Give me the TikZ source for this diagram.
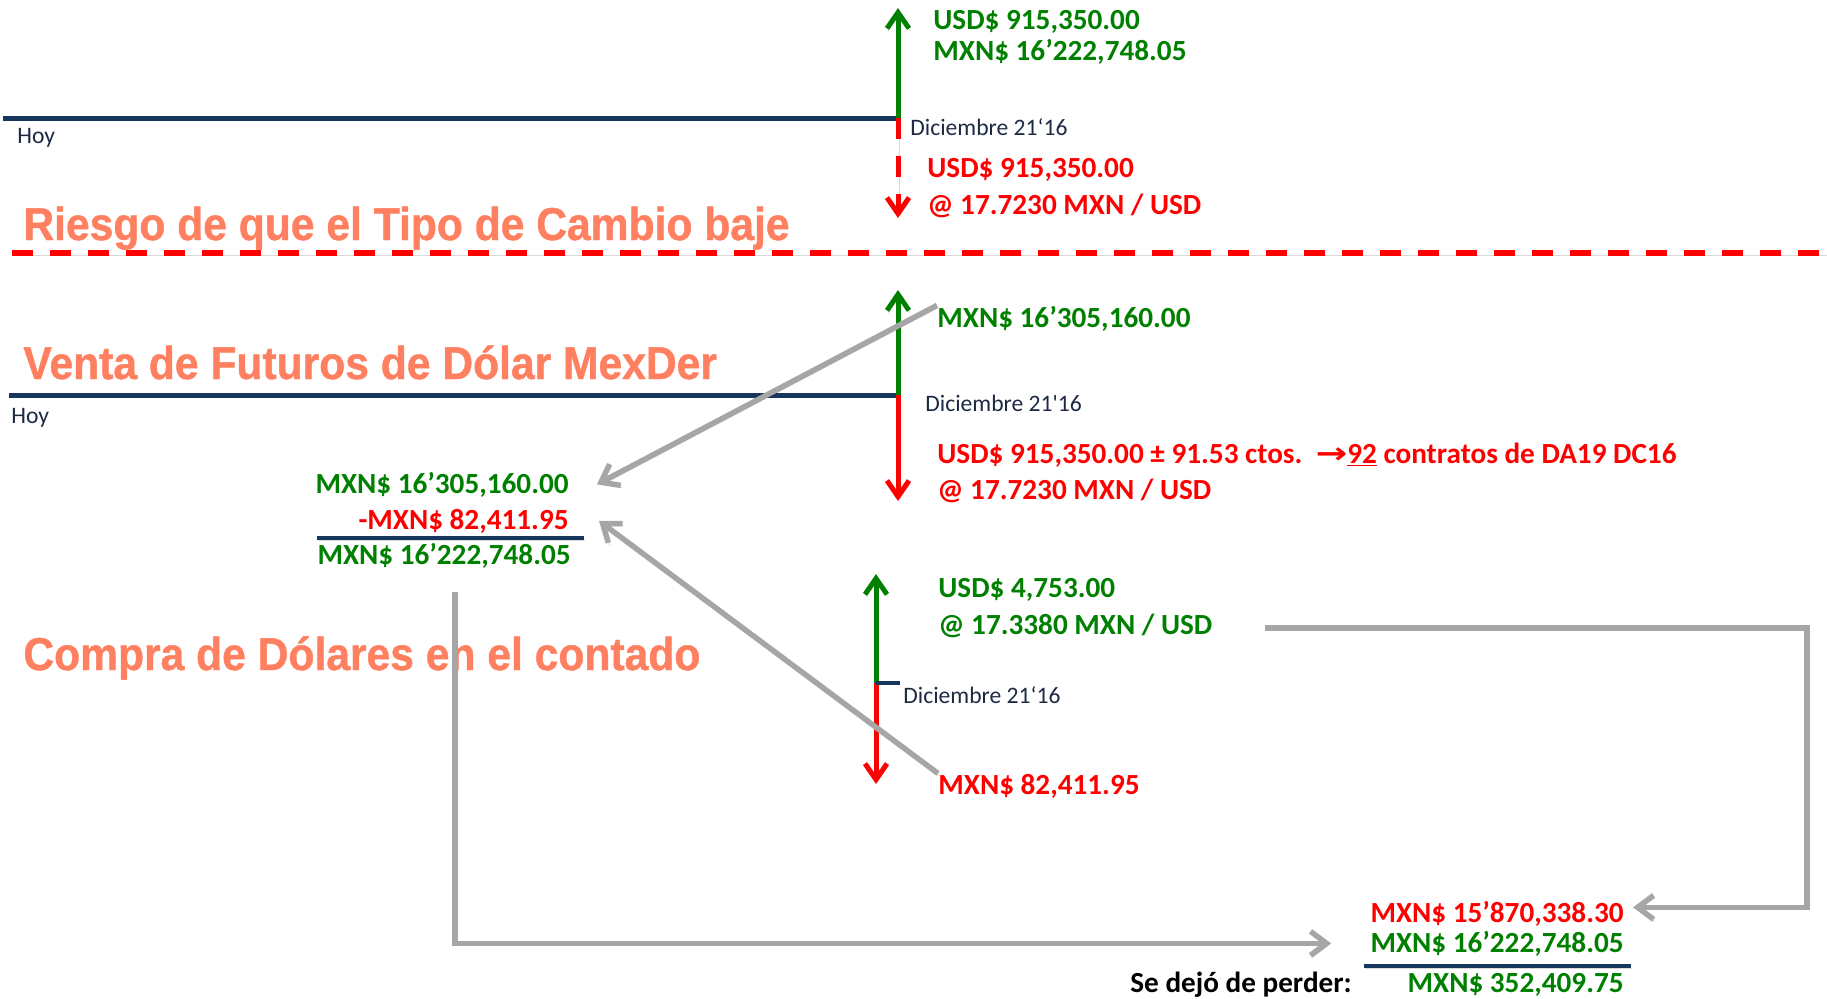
\documentclass[tikz,border=0pt]{standalone}
\usepackage{fontspec}
\setmainfont{Carlito}
\newfontfamily\headfont{Liberation Sans}[BoldFeatures={FakeBold=1}]
\newfontfamily\datefont{Carlito}[Ligatures=TeXOff]
\newfontfamily\symfont{DejaVu Sans}
\usetikzlibrary{arrows.meta}
\definecolor{cashgreen}{RGB}{0,128,0}
\definecolor{lossred}{RGB}{255,0,0}
\definecolor{navy}{RGB}{23,54,93}
\definecolor{datenavy}{RGB}{30,42,68}
\definecolor{headorange}{RGB}{255,128,96}
\definecolor{flowgray}{RGB}{166,166,166}
\newcommand{\tallhead}[1]{\scalebox{1}[1.08]{#1}}
\tikzset{money/.style={inner sep=0, font=\bfseries\fontsize{14.6}{17}\selectfont}}
\tikzset{datelabel/.style={inner sep=0, text=datenavy, font=\datefont\fontsize{11.8}{14}\selectfont}}
\tikzset{heading/.style={inner sep=0, text=headorange, font=\headfont\bfseries\fontsize{21.3}{25}\selectfont}}
\tikzset{shade/.style={preaction={draw=black, opacity=0.15, transform canvas={xshift=0.6pt, yshift=-1.2pt}}}}
\tikzset{timeline/.style={shade, draw=navy, line width=2.5pt}}
\tikzset{cash arrow/.style={shade, line width=2.5pt, -{Straight Barb[length=8pt,width=11pt]}}}
\tikzset{flow/.style={shade, draw=flowgray, line width=2.75pt, -{Straight Barb[length=8pt,width=12pt]}}}

\begin{document}
\begin{tikzpicture}[x=0.5pt, y=-0.5pt]
  \useasboundingbox (0, 0) rectangle (1827, 998);

  % riesgo
  \coordinate (t1 start) at (3, 118);
  \coordinate (t1 end) at (898, 118);
  \coordinate (t1 up) at (898, 8);
  \coordinate (t1 down) at (898, 218);
  \draw[timeline] (t1 start) -- (t1 end);
  \draw[cash arrow, cashgreen] (t1 end) -- (t1 up);
  \draw[cash arrow, lossred, dash pattern=on 10.5pt off 8.5pt] (t1 end) -- (t1 down);
  \node[money, text=cashgreen, anchor=base west] at (933, 29) (spot usd) {USD\$ 915,350.00};
  \node[money, text=cashgreen, anchor=base west] at (933, 60) (spot mxn) {MXN\$ 16’222,748.05};
  \node[datelabel, anchor=base west] at (910, 135) (date1) {Diciembre 21‘16};
  \node[money, text=lossred, anchor=base west] at (927, 177) (risk usd) {USD\$ 915,350.00};
  \node[money, text=lossred, anchor=base west] at (927, 214) (risk rate) {@ 17.7230 MXN / USD};
  \node[datelabel, anchor=base west] at (17, 143) (hoy1) {Hoy};
  \node[heading, anchor=base west] at (23, 240) (head1) {\tallhead{Riesgo de que el Tipo de Cambio baje}};
  \coordinate (cut start) at (12, 253);
  \coordinate (cut end) at (1827, 253);
  \draw[shade, lossred, line width=3pt, dash pattern=on 10.5pt off 8.5pt] (cut start) -- (cut end);

  % futuros
  \coordinate (t2 start) at (9, 395);
  \coordinate (t2 end) at (898, 395);
  \coordinate (t2 up) at (898, 290);
  \coordinate (t2 down) at (898, 501);
  \draw[timeline] (t2 start) -- (t2 end);
  \draw[cash arrow, cashgreen] (t2 end) -- (t2 up);
  \draw[cash arrow, lossred] (t2 end) -- (t2 down);
  \node[heading, anchor=base west] at (23, 379) (head2) {\tallhead{Venta de Futuros de Dólar MexDer}};
  \node[datelabel, anchor=base west] at (11, 423) (hoy2) {Hoy};
  \node[money, text=cashgreen, anchor=base west] at (937, 327) (fut mxn) {MXN\$ 16’305,160.00};
  \node[datelabel, anchor=base west] at (925, 411) (date2) {Diciembre 21'16};
  \node[money, text=lossred, anchor=base west] at (937, 463) (fut usd)
    {USD\$ 915,350.00 ± 91.53 ctos.\ \ {\symfont\bfseries\scalebox{1.3}[1]{→}}\underline{92} contratos de DA19 DC16};
  \node[money, text=lossred, anchor=base west] at (937, 499) (fut rate) {@ 17.7230 MXN / USD};

  % resta
  \node[money, text=cashgreen, anchor=base east] at (569, 493) (box a) {MXN\$ 16’305,160.00};
  \node[money, text=lossred, anchor=base east] at (569, 529) (box b) {-MXN\$ 82,411.95};
  \coordinate (box line start) at (317, 538);
  \coordinate (box line end) at (584, 538);
  \draw[shade, navy, line width=2pt] (box line start) -- (box line end);
  \node[money, text=cashgreen, anchor=base east] at (571, 564) (box c) {MXN\$ 16’222,748.05};

  % contado
  \coordinate (t3 mid) at (876, 683);
  \coordinate (t3 tick) at (900, 683);
  \coordinate (t3 up) at (876, 574);
  \coordinate (t3 down) at (876, 784);
  \draw[cash arrow, cashgreen] (t3 mid) -- (t3 up);
  \draw[cash arrow, lossred] (t3 mid) -- (t3 down);
  \draw[navy, line width=2pt] (t3 mid) -- (t3 tick);
  \node[heading, anchor=base west] at (23, 670) (head3) {\tallhead{Compra de Dólares en el contado}};
  \node[money, text=cashgreen, anchor=base west] at (938, 597) (cash usd) {USD\$ 4,753.00};
  \node[money, text=cashgreen, anchor=base west] at (938, 634) (cash rate) {@ 17.3380 MXN / USD};
  \node[datelabel, anchor=base west] at (903, 703) (date3) {Diciembre 21‘16};
  \node[money, text=lossred, anchor=base west] at (938, 794) (cash mxn) {MXN\$ 82,411.95};

  % resultado
  \node[money, text=lossred, anchor=base east] at (1624, 922) (res a) {MXN\$ 15’870,338.30};
  \node[money, text=cashgreen, anchor=base east] at (1624, 952) (res b) {MXN\$ 16’222,748.05};
  \coordinate (res line start) at (1364, 966);
  \coordinate (res line end) at (1631, 966);
  \draw[shade, navy, line width=2pt] (res line start) -- (res line end);
  \node[money, anchor=base west] at (1130, 992) (saved) {Se dejó de perder:};
  \node[money, text=cashgreen, anchor=base east] at (1624, 992) (res c) {MXN\$ 352,409.75};

  % flechas grises
  \draw[flow] (fut mxn.north west) -- ([xshift=14pt]box a.east);
  \draw[flow] (cash mxn.north west) -- ([xshift=15pt]box b.east);
  \coordinate (c start) at (455, 592);
  \draw[flow] (c start) |- ([xshift=-19.5pt]res b.west);
  \coordinate (d start) at (1265, 628);
  \draw[flow] (d start) -- ++(542, 0) |- ([xshift=4.5pt, yshift=3pt]res a.east);
\end{tikzpicture}
\end{document}
